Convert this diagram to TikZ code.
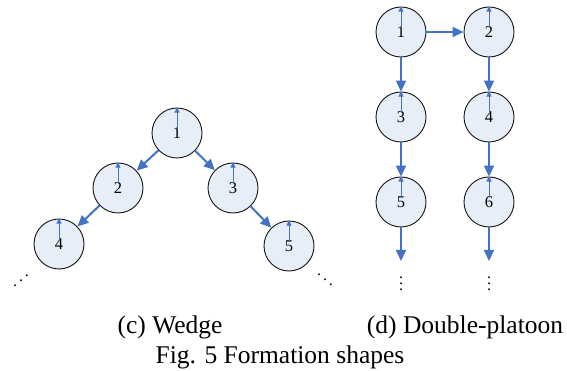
\documentclass[tikz,border=0pt]{standalone}
\usepackage{fontspec}
\setmainfont{Liberation Serif}
\usetikzlibrary{arrows.meta}
\definecolor{arrowblue}{RGB}{68,114,196}
\definecolor{nodefill}{RGB}{232,238,248}
\definecolor{nodeline}{RGB}{20,20,20}
\tikzset{
  robot/.style={circle, draw=nodeline, line width=0.9pt, fill=nodefill,
    minimum size=50pt, inner sep=0pt, font=\fontsize{16.5}{18}\selectfont},
  link/.style={draw=arrowblue, line width=2pt, -{Triangle[length=11pt,width=10pt]}},
  heading/.style={draw=arrowblue, line width=0.8pt, -{Triangle[length=5pt,width=5pt]}},
  caption/.style={anchor=base, font=\fontsize{25.5}{30}\selectfont, inner sep=0pt},
  dotsnode/.style={inner sep=0pt, scale=1.6}
}
\newcommand{\headarrow}[1]{\draw[heading] ([yshift=4pt]#1.center) -- (#1.north);}
\begin{document}
\begin{tikzpicture}[x=1pt,y=-1pt]
\useasboundingbox (0,0) rectangle (567,371);
% Wedge
\node[robot] (w1) at (177,133) {1};
\node[robot] (w2) at (118,188) {2};
\node[robot] (w3) at (233,188) {3};
\node[robot] (w4) at (59,244) {4};
\node[robot] (w5) at (289,246) {5};
\foreach \n in {w1,w2,w3,w4,w5} {\headarrow{\n}}
\draw[link] (w1) -- (w2);
\draw[link] (w1) -- (w3);
\draw[link] (w2) -- (w4);
\draw[link] (w3) -- (w5);
\node[dotsnode, xscale=-1] (wd1) at (21,276) {$\ddots$};
\node[dotsnode] (wd2) at (325,275) {$\ddots$};
% Double platoon
\node[robot] (d1) at (401,32) {1};
\node[robot] (d2) at (489,32) {2};
\node[robot] (d3) at (401,117) {3};
\node[robot] (d4) at (489,117) {4};
\node[robot] (d5) at (401,202) {5};
\node[robot] (d6) at (489,202) {6};
\foreach \n in {d1,d2,d3,d4,d5,d6} {\headarrow{\n}}
\draw[link] (d1) -- (d2);
\draw[link] (d1) -- (d3);
\draw[link] (d3) -- (d5);
\draw[link] (d2) -- (d4);
\draw[link] (d4) -- (d6);
\coordinate (e5) at (401,261);
\coordinate (e6) at (489,261);
\draw[link] (d5) -- (e5);
\draw[link] (d6) -- (e6);
\node[dotsnode] (dd1) at (401,279) {$\vdots$};
\node[dotsnode] (dd2) at (489,279) {$\vdots$};
% Captions
\node[caption] (c1) at (170,333) {(c) Wedge};
\node[caption] (c2) at (465,333) {(d) Double-platoon};
\node[caption] (c3) at (280,363) {Fig. 5 Formation shapes};
\end{tikzpicture}
\end{document}
